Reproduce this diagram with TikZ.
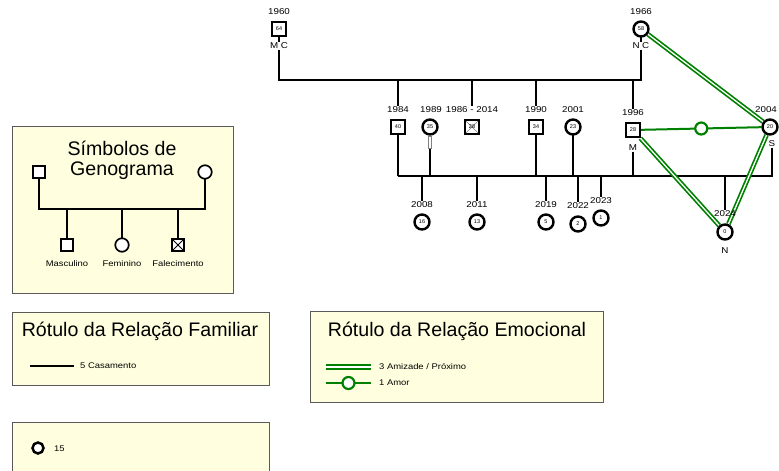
\documentclass[tikz,border=0pt]{standalone}
\usepackage{fontspec}
\setmainfont{Liberation Sans}
\newfontfamily\widefont[FakeStretch=1.15]{Liberation Sans}
\definecolor{grn}{RGB}{0,128,0}
\definecolor{boxfill}{RGB}{255,255,224}
\definecolor{boxline}{RGB}{90,90,90}
\pgfdeclarelayer{boxes}\pgfdeclarelayer{bg}\pgfsetlayers{boxes,bg,main}
\tikzset{
 fam/.style={line width=2.1pt},
 man/.style={draw, line width=2.4pt, fill=white, minimum size=14pt, inner sep=0pt, font=\fontsize{5.5}{5.5}\selectfont},
 woman/.style={man, circle, minimum size=15pt},
 dead/.style={man, path picture={\draw[gray, line width=0.5pt] (path picture bounding box.south west) -- (path picture bounding box.north east) (path picture bounding box.north west) -- (path picture bounding box.south east);}},
 lman/.style={draw, line width=1.7pt, fill=white, minimum size=12.5pt, inner sep=0pt},
 lwoman/.style={lman, circle, minimum size=13.5pt},
 ldead/.style={lman, path picture={\draw[line width=0.8pt] (path picture bounding box.south west) -- (path picture bounding box.north east) (path picture bounding box.north west) -- (path picture bounding box.south east);}},
 yr/.style={font=\widefont\fontsize{8.5}{8.5}\selectfont, inner sep=0.5pt},
 tag/.style={yr, fill=white},
 friend/.style={draw=grn, line width=1.7pt, double=white, double distance=1.3pt},
 love/.style={draw=grn, line width=2pt},
 lovering/.style={circle, draw=grn, line width=2.2pt, fill=white, minimum size=12pt, inner sep=0pt},
 legbox/.style={draw=boxline, fill=boxfill, line width=0.8pt},
 title/.style={font=\fontsize{19.6}{19.6}\selectfont, inner sep=0pt},
 small/.style={font=\widefont\fontsize{8.2}{8.2}\selectfont, inner sep=0pt, anchor=west},
}
\begin{document}
\begin{tikzpicture}[x=1pt,y=-1pt]
\useasboundingbox (0,0) rectangle (779,471);
% ---------- legend boxes ----------
\begin{pgfonlayer}{boxes}
\draw[legbox] (12,126) rectangle (233,293);
\draw[legbox] (12,312) rectangle (269,385);
\draw[legbox] (310,311) rectangle (603,402);
\draw[legbox] (12,422) rectangle (269,495);
\end{pgfonlayer}
% ---------- genogram persons ----------
\node[man] (n1960) at (279,29) {64};
\node[yr] (y1960) at (279,12) {1960};
\node[tag] (t1960) at (279,46) {M\hspace{2.5pt}C};
\node[woman] (n1966) at (641,29) {58};
\node[yr] (y1966) at (641,12) {1966};
\node[tag] (t1966) at (641,46) {N\hspace{2.5pt}C};
\node[man] (n1984) at (398,127) {40};
\node[yr] (y1984) at (398,110) {1984};
\node[woman] (n1989) at (430,127) {35};
\node[yr] (y1989) at (431,110) {1989};
\node[draw=gray, fill=white, line width=0.6pt, minimum width=3pt, minimum height=12pt, inner sep=0pt] (i1989) at (430,142) {};
\node[dead] (n1986) at (472,127) {28};
\node[yr] (y1986) at (472,110) {1986 - 2014};
\node[man] (n1990) at (536,127) {34};
\node[yr] (y1990) at (536,110) {1990};
\node[woman] (n2001) at (573,127) {23};
\node[yr] (y2001) at (573,110) {2001};
\node[man] (n1996) at (633,130) {28};
\node[yr] (y1996) at (633,113) {1996};
\node[yr] (t1996) at (633,148) {M};
\node[woman] (n2004) at (770,127) {20};
\node[yr] (y2004) at (766,110) {2004};
\node[yr] (t2004) at (772,144) {S};
\node[woman] (n2008) at (422,222) {16};
\node[yr] (y2008) at (422,205) {2008};
\node[woman] (n2011) at (477,222) {13};
\node[yr] (y2011) at (477,205) {2011};
\node[woman] (n2019) at (546,222) {5};
\node[yr] (y2019) at (546,205) {2019};
\node[woman] (n2022) at (578,224) {2};
\node[yr] (y2022) at (578,206) {2022};
\node[woman] (n2023) at (601,218) {1};
\node[yr] (y2023) at (601,201) {2023};
\node[woman] (n2024) at (725,232) {0};
\node[yr] (y2024) at (725,214) {2024};
\node[yr] (t2024) at (725,251) {N};
% ---------- connectors ----------
\begin{pgfonlayer}{bg}
\coordinate (top) at (0,80);
\coordinate (base) at (0,176);
\draw[fam] (n1960.center) -- (n1960 |- top) -- (n1966 |- top) -- (n1966.center);
\draw[fam] (n1984 |- top) -- (y1984.north);
\draw[fam] (n1984.center) -- (n1984 |- base);
\draw[fam] (n1986 |- top) -- (y1986.north);
\draw[fam] (n1990 |- top) -- (y1990.north);
\draw[fam] (n1990.center) -- (n1990 |- base);
\draw[fam] (n1996 |- top) -- (y1996.north);
\draw[fam] (t1996.south) -- (n1996 |- base);
\draw[fam] (i1989.south) -- (n1989 |- base);
\draw[fam] (n2001.center) -- (n2001 |- base);
\draw[fam] (n1984 |- base) -- (t2004 |- base) -- (t2004.south);
\draw[fam] (n2008 |- base) -- (y2008.north);
\draw[fam] (n2011 |- base) -- (y2011.north);
\draw[fam] (n2019 |- base) -- (y2019.north);
\draw[fam] (n2022 |- base) -- (y2022.north);
\draw[fam] (n2023 |- base) -- (y2023.north);
\draw[fam] (n2024 |- base) -- (y2024.north);
\draw[friend] (n1966) -- (n2004);
\draw[friend] (n1996) -- (n2024);
\draw[friend] (n2004) -- (n2024);
\draw[love] (n1996) -- (n2004) node[lovering, pos=0.5] (lv) {};
\end{pgfonlayer}
% ---------- legend: symbols ----------
\node[title] (st1) at (122,148) {Símbolos de};
\node[title] (st2) at (122,171) {Genograma};
\node[lman] (sm) at (39,172) {};
\node[lwoman] (sf) at (205,172) {};
\node[lman] (cm) at (67,245) {};
\node[lwoman] (cf) at (122,245) {};
\node[ldead] (cd) at (178,245) {};
\node[small, anchor=center] (lm) at (67,264) {Masculino};
\node[small, anchor=center] (lf) at (122,264) {Feminino};
\node[small, anchor=center] (ld) at (178,264) {Falecimento};
\coordinate (sy) at (0,209);
\begin{pgfonlayer}{bg}
\draw[fam] (sm.center) -- (sm |- sy) -- (sf |- sy) -- (sf.center);
\draw[fam] (cm |- sy) -- (cm.center);
\draw[fam] (cf |- sy) -- (cf.center);
\draw[fam] (cd |- sy) -- (cd.center);
\end{pgfonlayer}
% ---------- legend: family relation ----------
\node[title] (ft) at (140,331) {Rótulo da Relação Familiar};
\coordinate (fa1) at (30,366);
\coordinate (fa2) at (74,366);
\draw[fam] (fa1) -- (fa2);
\node[small] (fl) at (80,366) {5 Casamento};
% ---------- legend: emotional relation ----------
\node[title] (et) at (457,331) {Rótulo da Relação Emocional};
\coordinate (ea1) at (326,367);
\coordinate (ea2) at (371,367);
\draw[friend, line width=2.3pt, double distance=2pt] (ea1) -- (ea2);
\node[small] (el1) at (379,367) {3 Amizade / Próximo};
\coordinate (eb1) at (326,383);
\coordinate (eb2) at (371,383);
\draw[love] (eb1) -- (eb2) node[lovering, pos=0.5] (elv) {};
\node[small] (el2) at (379,383) {1 Amor};
% ---------- legend: count ----------
\node[circle, draw, line width=2.5pt, minimum size=11pt, inner sep=0pt, fill=white] (cc) at (38,448) {};
\node[small] (cl) at (54,449) {15};
\end{tikzpicture}
\end{document}
